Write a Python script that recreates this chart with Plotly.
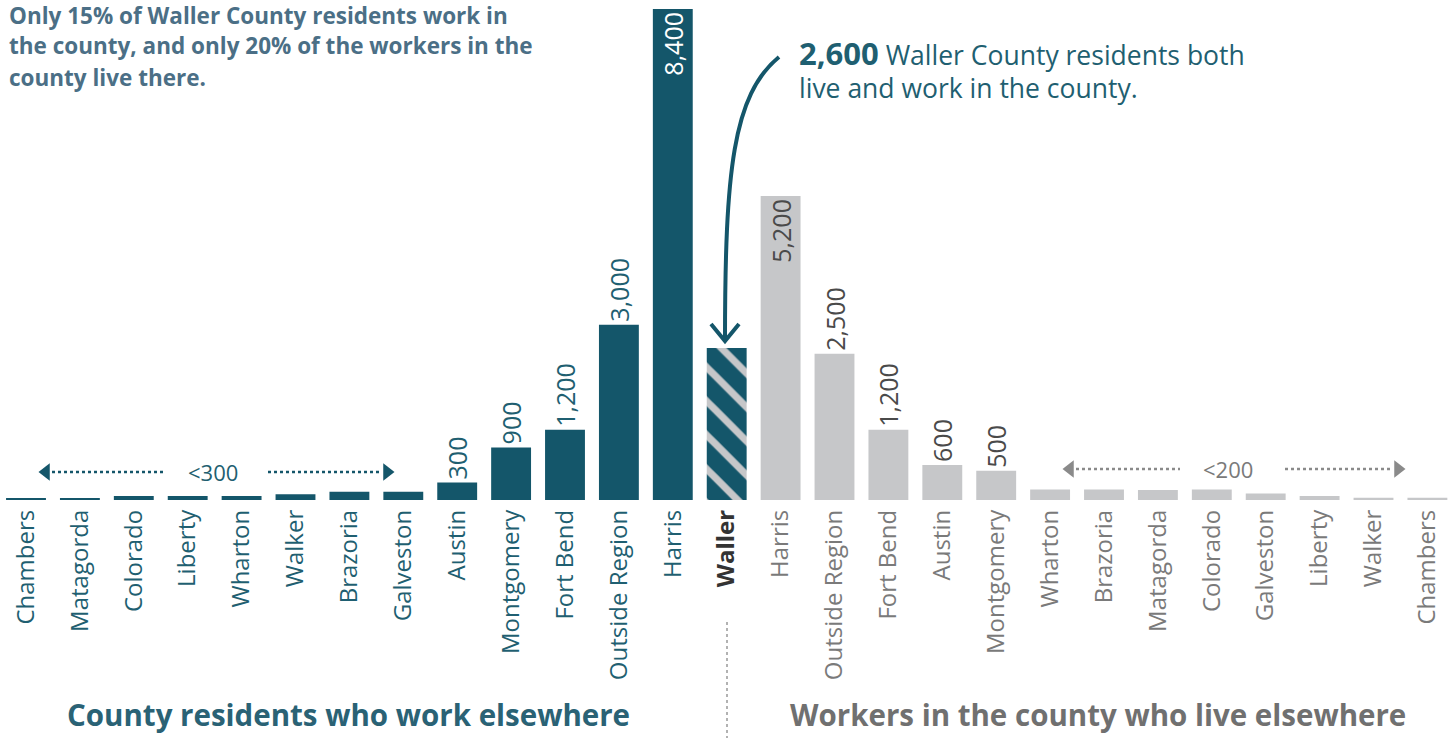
import plotly.graph_objects as go

# ---------------- data ----------------
left_names = ["Chambers", "Matagorda", "Colorado", "Liberty", "Wharton", "Walker",
              "Brazoria", "Galveston", "Austin", "Montgomery", "Fort Bend",
              "Outside Region", "Harris"]
left_vals = [30, 30, 70, 70, 70, 100, 140, 140, 300, 900, 1200, 3000, 8400]

center_name = "Waller"
center_val = 2600

right_names = ["Harris", "Outside Region", "Fort Bend", "Austin", "Montgomery",
               "Wharton", "Brazoria", "Matagorda", "Colorado", "Galveston",
               "Liberty", "Walker", "Chambers"]
right_vals = [5200, 2500, 1200, 600, 500, 180, 180, 170, 180, 110, 70, 40, 40]

left_label_min = 300
right_label_min = 500
inside_min = 5000

# ---------------- style ----------------
TEAL = "#14566a"
TEAL_TXT = "#1f5f71"
GRAY = "#c6c7c9"
GRAY_TXT = "#7a7a7a"
DARK_TXT = "#4a4a4a"
NOTE = "#4b6f86"
FONT = "Open Sans"

n_left = len(left_names)
x_left = list(range(n_left))
x_center = n_left
x_right = list(range(n_left + 1, n_left + 1 + len(right_names)))
BW = 0.74

def fmt(v):
    return f"{v:,}"

left_text = [fmt(v) if v >= left_label_min else "" for v in left_vals]
left_pos = ["inside" if v > inside_min else "outside" for v in left_vals]
right_text = [fmt(v) if v >= right_label_min else "" for v in right_vals]
right_pos = ["inside" if v > inside_min else "outside" for v in right_vals]

fig = go.Figure()
fig.add_trace(go.Bar(
    x=x_left, y=left_vals, width=BW, marker_color=TEAL, marker_line_width=0,
    text=left_text, textposition=left_pos, textangle=-90,
    insidetextanchor="end", constraintext="none", cliponaxis=False,
    insidetextfont=dict(family=FONT, size=25, color="white"),
    outsidetextfont=dict(family=FONT, size=25, color=TEAL_TXT),
    hoverinfo="skip", showlegend=False))
fig.add_trace(go.Bar(
    x=[x_center], y=[center_val], width=BW, marker_line_width=0,
    marker=dict(color=TEAL, pattern=dict(shape="\\", fgcolor=GRAY, bgcolor=TEAL,
                                         size=24, solidity=0.3, fillmode="replace")),
    hoverinfo="skip", showlegend=False))
fig.add_trace(go.Bar(
    x=x_right, y=right_vals, width=BW, marker_color=GRAY, marker_line_width=0,
    text=right_text, textposition=right_pos, textangle=-90,
    insidetextanchor="end", constraintext="none", cliponaxis=False,
    insidetextfont=dict(family=FONT, size=25, color=DARK_TXT),
    outsidetextfont=dict(family=FONT, size=25, color=DARK_TXT),
    hoverinfo="skip", showlegend=False))

tickvals = x_left + [x_center] + x_right
ticktext = ([f'<span style="color:{TEAL_TXT}">{n}</span>' for n in left_names]
            + [f'<b><span style="color:#333333">{center_name}</span></b>']
            + [f'<span style="color:{GRAY_TXT}">{n}</span>' for n in right_names])

# helper conversions for decorations (pixel -> axis units)
PX0, PXS = 26.0, 53.9
YMAX = 8554.0
def dx(px):
    return (px - PX0) / PXS
def dy(py):
    return (500 - py) * YMAX / 500.0
def py_paper(py):
    return (500 - py) / 500.0

shapes = []
# dotted range lines
for (a, b, col, yy) in [(52, 165, TEAL, 472), (268, 382, TEAL, 472),
                        (1076, 1180, "#8a8a8a", 469), (1285, 1392, "#8a8a8a", 469)]:
    shapes.append(dict(type="line", xref="x", yref="y", x0=dx(a), x1=dx(b),
                       y0=dy(yy), y1=dy(yy), line=dict(color=col, width=2.5, dash="dot")))
# vertical separator
shapes.append(dict(type="line", xref="x", yref="paper", x0=dx(727), x1=dx(727),
                   y0=py_paper(622), y1=py_paper(738),
                   line=dict(color="#999999", width=1.5, dash="dot")))
# curved arrow
shapes.append(dict(type="path", xref="x", yref="y",
                   path=f"M {dx(779)},{dy(57)} C {dx(733)},{dy(95)} {dx(725)},{dy(170)} {dx(725)},{dy(341)}",
                   line=dict(color=TEAL, width=4)))
shapes.append(dict(type="path", xref="x", yref="y",
                   path=f"M {dx(711)},{dy(324)} L {dx(725)},{dy(341)} L {dx(739)},{dy(324)}",
                   line=dict(color=TEAL, width=4)))
fig.update_layout(shapes=shapes)

# arrow heads for range markers
fig.add_trace(go.Scatter(x=[dx(46)], y=[dy(472)], mode="markers",
                         marker=dict(symbol="triangle-left", size=15, color=TEAL),
                         hoverinfo="skip", showlegend=False, cliponaxis=False))
fig.add_trace(go.Scatter(x=[dx(387)], y=[dy(472)], mode="markers",
                         marker=dict(symbol="triangle-right", size=15, color=TEAL),
                         hoverinfo="skip", showlegend=False, cliponaxis=False))
fig.add_trace(go.Scatter(x=[dx(1070)], y=[dy(469)], mode="markers",
                         marker=dict(symbol="triangle-left", size=15, color="#8a8a8a"),
                         hoverinfo="skip", showlegend=False, cliponaxis=False))
fig.add_trace(go.Scatter(x=[dx(1398)], y=[dy(469)], mode="markers",
                         marker=dict(symbol="triangle-right", size=15, color="#8a8a8a"),
                         hoverinfo="skip", showlegend=False, cliponaxis=False))

ann = []
ann.append(dict(x=dx(213), y=dy(472), xref="x", yref="y", text="&lt;300", showarrow=False,
                font=dict(family=FONT, size=22, color=TEAL_TXT)))
ann.append(dict(x=dx(1228), y=dy(469), xref="x", yref="y", text="&lt;200", showarrow=False,
                font=dict(family=FONT, size=22, color=GRAY_TXT)))
# top-left note
for i, line in enumerate(["Only 15% of Waller County residents work in",
                          "the county, and only 20% of the workers in the",
                          "county live there."]):
    ann.append(dict(x=7 / 1452, y=py_paper(15 + 31 * i), xref="paper", yref="paper",
                    xanchor="left", yanchor="middle", showarrow=False,
                    text=f"<b>{line}</b>", font=dict(family=FONT, size=22.5, color=NOTE)))
# callout
ann.append(dict(x=dx(797), y=py_paper(53), xref="x", yref="paper", xanchor="left",
                yanchor="middle", showarrow=False,
                text='<b><span style="font-size:31px">2,600</span></b> Waller County residents both',
                font=dict(family=FONT, size=26.5, color=TEAL_TXT)))
ann.append(dict(x=dx(797), y=py_paper(88), xref="x", yref="paper", xanchor="left",
                yanchor="middle", showarrow=False,
                text="live and work in the county.",
                font=dict(family=FONT, size=26.5, color=TEAL_TXT)))
# bottom titles
ann.append(dict(x=dx(348), y=py_paper(736), xref="x", yref="paper", yanchor="bottom",
                showarrow=False, borderpad=0,
                text="<b>County residents who work elsewhere</b>",
                font=dict(family=FONT, size=29.5, color="#2a6275")))
ann.append(dict(x=dx(1098), y=py_paper(736), xref="x", yref="paper", yanchor="bottom",
                showarrow=False, borderpad=0,
                text="<b>Workers in the county who live elsewhere</b>",
                font=dict(family=FONT, size=29.5, color="#707070")))
fig.update_layout(annotations=ann)

fig.update_layout(
    width=1452, height=738,
    margin=dict(l=0, r=0, t=0, b=238, pad=0),
    paper_bgcolor="white", plot_bgcolor="white",
    barmode="overlay",
    xaxis=dict(range=[dx(0), dx(1452)], tickmode="array", tickvals=tickvals,
               ticktext=ticktext, tickangle=-90, showgrid=False, zeroline=False,
               showline=False, ticks="", ticklabelstandoff=4,
               tickfont=dict(family=FONT, size=24)),
    yaxis=dict(range=[0, YMAX], visible=False, showgrid=False, zeroline=False),
    showlegend=False,
)

fig.write_html("out.html", config={"displayModeBar": False},
               post_script="document.body.style.margin='0';")
